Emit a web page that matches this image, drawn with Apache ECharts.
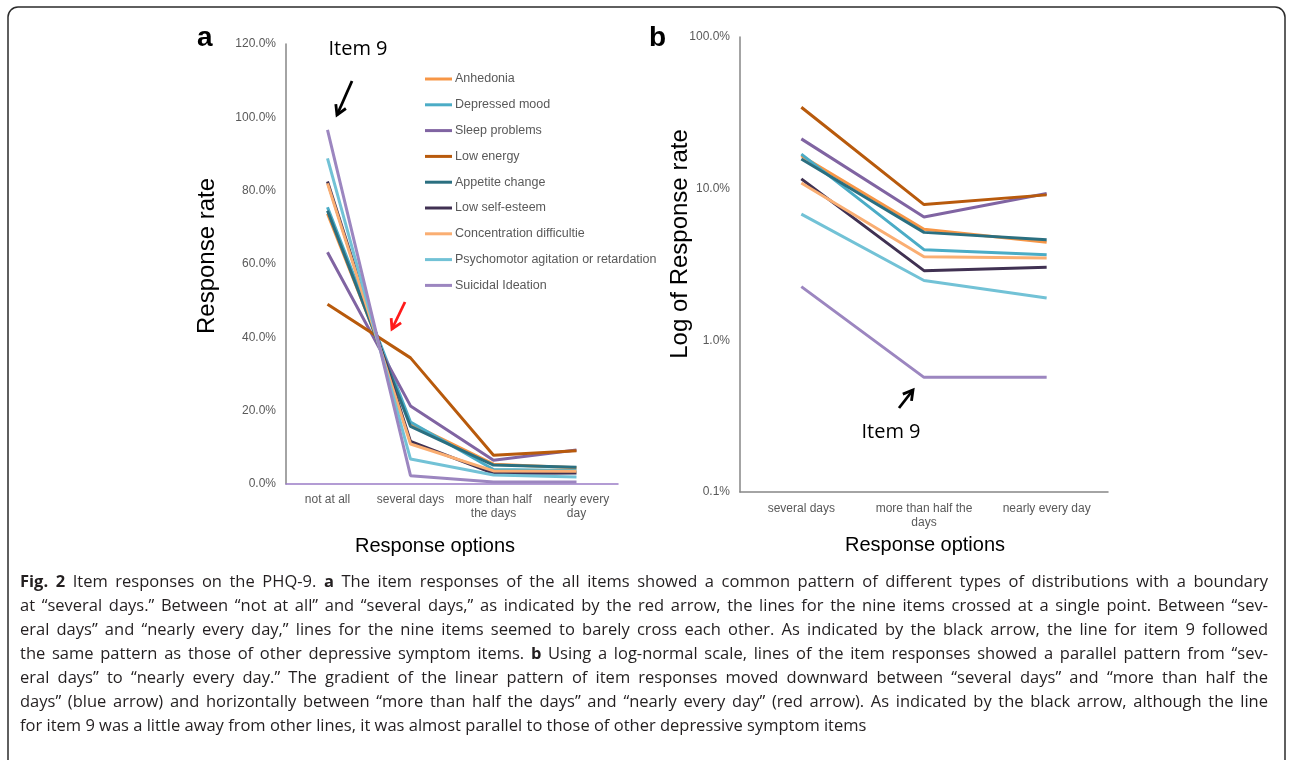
<!DOCTYPE html>
<html><head><meta charset="utf-8">
<script src="https://cdn.jsdelivr.net/npm/echarts@6/dist/echarts.min.js"></script>
<style>html,body{margin:0;padding:0;background:#fff}#c{width:1292px;height:760px}</style>
</head><body><div id="c"></div>
<script>
// ---------- DATA ----------
const seriesNames = ['Anhedonia','Depressed mood','Sleep problems','Low energy','Appetite change','Low self-esteem','Concentration difficultie','Psychomotor agitation or retardation','Suicidal Ideation'];
const categoriesA = ['not at all','several days','more than half the days','nearly every day'];
const tickLabelsA = ['not at all','several days','more than half\nthe days','nearly every\nday'];
const categoriesB = ['several days','more than half the days','nearly every day'];
const tickLabelsB = ['several days','more than half the\ndays','nearly every day'];
const yTicksA = [0,20,40,60,80,100,120];
const yTicksB = [0.001,0.01,0.1,1];
// response rate (%) per category: not at all, several days, more than half, nearly every day
const anhedonia      = [73.7, 16.5, 5.40, 4.43];
const depressedMood  = [75.5, 16.9, 3.96, 3.66];
const sleepProblems  = [63.2, 21.3, 6.50, 9.30];
const lowEnergy      = [49.0, 34.4, 7.85, 9.10];
const appetiteChange = [74.5, 15.7, 5.15, 4.60];
const lowSelfEsteem  = [82.5, 11.6, 2.88, 3.03];
const concentration  = [82.0, 10.9, 3.56, 3.49];
const psychomotor    = [88.8, 6.80, 2.48, 1.90];
const suicidal       = [96.6, 2.26, 0.57, 0.57];
const allValues = [anhedonia, depressedMood, sleepProblems, lowEnergy, appetiteChange, lowSelfEsteem, concentration, psychomotor, suicidal];

// ---------- STYLE ----------
const colors = ['#F79646','#4BACC6','#8064A2','#B85A0C','#2A6F80','#403152','#FAAE72','#72C2D6','#9C86C0'];
const gray = '#595959';
const lblFont = 'Liberation Sans';

const series = [];
allValues.forEach((vals, i) => {
  series.push({
    name: seriesNames[i], type: 'line', xAxisIndex: 0, yAxisIndex: 0,
    data: vals, showSymbol: false, symbol: 'none', silent: true,
    lineStyle: { width: 3, color: colors[i] }, itemStyle: { color: colors[i] }, z: 2 + i
  });
});
allValues.forEach((vals, i) => {
  series.push({
    name: seriesNames[i], type: 'line', xAxisIndex: 1, yAxisIndex: 1,
    data: vals.slice(1).map(v => v / 100), showSymbol: false, symbol: 'none', silent: true,
    lineStyle: { width: 3, color: colors[i] }, itemStyle: { color: colors[i] }, z: 2 + i
  });
});

function arrow(x1, y1, x2, y2, color, w) {
  const ang = Math.atan2(y2 - y1, x2 - x1), L = 11, a = Math.PI / 6;
  const p1 = [x2 - L * Math.cos(ang - a), y2 - L * Math.sin(ang - a)];
  const p2 = [x2 - L * Math.cos(ang + a), y2 - L * Math.sin(ang + a)];
  return [
    { type: 'line', shape: { x1, y1, x2, y2 }, style: { stroke: color, lineWidth: w } },
    { type: 'polyline', shape: { points: [p1, [x2, y2], p2] }, style: { stroke: color, lineWidth: w, fill: null } }
  ];
}

// caption (justified word layout)
const captionLines = [
  '*Fig. *2 Item responses on the PHQ-9. *a The item responses of the all items showed a common pattern of different types of distributions with a boundary',
  'at “several days.” Between “not at all” and “several days,” as indicated by the red arrow, the lines for the nine items crossed at a single point. Between “sev-',
  'eral days” and “nearly every day,” lines for the nine items seemed to barely cross each other. As indicated by the black arrow, the line for item 9 followed',
  'the same pattern as those of other depressive symptom items. *b Using a log-normal scale, lines of the item responses showed a parallel pattern from “sev-',
  'eral days” to “nearly every day.” The gradient of the linear pattern of item responses moved downward between “several days” and “more than half the',
  'days” (blue arrow) and horizontally between “more than half the days” and “nearly every day” (red arrow). As indicated by the black arrow, although the line',
  'for item 9 was a little away from other lines, it was almost parallel to those of other depressive symptom items'
];
const capFamily = 'Open Sans', capSize = 16.5, capX0 = 20, capX1 = 1268, capY0 = 582, capStep = 24;
const mctx = document.createElement('canvas').getContext('2d');
function mw(t, bold) { mctx.font = (bold ? 'bold ' : '') + capSize + 'px "' + capFamily + '"'; return mctx.measureText(t).width; }
const capGraphics = [];
let lastScale = 1;
captionLines.forEach((line, li) => {
  const words = line.split(' ').map(w => w.startsWith('*') ? { t: w.slice(1), b: true } : { t: w, b: false });
  words.forEach(w => w.w = mw(w.t, w.b));
  const sum = words.reduce((s, w) => s + w.w, 0);
  const sp = mw(' ', false);
  const gaps = words.length - 1;
  const justify = li < captionLines.length - 1;
  let gap = sp, scale = 1;
  if (justify) {
    gap = (capX1 - capX0 - sum) / gaps;
    if (gap < sp * 0.8) { scale = (capX1 - capX0) / (sum + gaps * sp); gap = sp * scale; }
    lastScale = scale;
  } else {
    scale = lastScale; gap = sp * scale;
  }
  let x = capX0;
  words.forEach(w => {
    capGraphics.push({ type: 'text', x: x, y: capY0 + li * capStep, scaleX: scale,
      style: { text: w.t, font: (w.b ? 'bold ' : '') + capSize + 'px "' + capFamily + '"', fill: '#231f20', verticalAlign: 'middle' } });
    x += w.w * scale + gap;
  });
});

const graphics = [
  { type: 'rect', shape: { x: 8, y: 7, width: 1277, height: 780, r: 10 }, style: { stroke: '#2b2b2b', lineWidth: 1.5, fill: null }, silent: true },
  { type: 'text', x: 197, y: 38, style: { text: 'a', font: 'bold 28px "Liberation Sans"', fill: '#000', verticalAlign: 'middle' } },
  { type: 'text', x: 649, y: 38, style: { text: 'b', font: 'bold 28px "Liberation Sans"', fill: '#000', verticalAlign: 'middle' } },
  { type: 'text', x: 207, y: 256, rotation: Math.PI / 2, style: { text: 'Response rate', font: '24px "Liberation Sans"', fill: '#000', align: 'center', verticalAlign: 'middle' } },
  { type: 'text', x: 680, y: 244, rotation: Math.PI / 2, style: { text: 'Log of Response rate', font: '24px "Liberation Sans"', fill: '#000', align: 'center', verticalAlign: 'middle' } },
  { type: 'text', x: 435, y: 546, style: { text: 'Response options', font: '20px "Liberation Sans"', fill: '#000', align: 'center', verticalAlign: 'middle' } },
  { type: 'text', x: 925, y: 545, style: { text: 'Response options', font: '20px "Liberation Sans"', fill: '#000', align: 'center', verticalAlign: 'middle' } },
  { type: 'text', x: 358, y: 49, style: { text: 'Item 9', font: '20px "Open Sans"', fill: '#000', align: 'center', verticalAlign: 'middle' } },
  { type: 'text', x: 891, y: 432, style: { text: 'Item 9', font: '20px "Open Sans"', fill: '#000', align: 'center', verticalAlign: 'middle' } },
  ...arrow(352, 81, 337, 115, '#000', 2.8),
  ...arrow(405, 302, 392, 329, '#ff1a1a', 2.8),
  ...arrow(899, 408, 913, 390, '#000', 2.8),
  ...capGraphics
];

const chart = echarts.init(document.getElementById('c'));
chart.setOption({
  animation: false,
  backgroundColor: '#fff',
  grid: [
    { left: 286, top: 44, width: 332, height: 440 },
    { left: 740, top: 37, width: 368, height: 455 }
  ],
  legend: {
    data: seriesNames, orient: 'vertical', left: 420, top: 67,
    icon: 'rect', itemWidth: 27, itemHeight: 3, itemGap: 11.8,
    textStyle: { color: gray, fontSize: 12.5, fontFamily: lblFont, lineHeight: 14, padding: [0, 0, 0, -2] },
    selectedMode: false
  },
  xAxis: [
    { type: 'category', gridIndex: 0, data: categoriesA, boundaryGap: true,
      axisLine: { lineStyle: { color: '#9B7CC6', width: 1.5 } }, axisTick: { show: false },
      axisLabel: { color: gray, fontSize: 12, fontFamily: lblFont, margin: 9, lineHeight: 14, interval: 0,
        formatter: (v, i) => tickLabelsA[i] } },
    { type: 'category', gridIndex: 1, data: categoriesB, boundaryGap: true,
      axisLine: { lineStyle: { color: '#868686', width: 1.5 } }, axisTick: { show: false },
      axisLabel: { color: gray, fontSize: 12, fontFamily: lblFont, margin: 10, lineHeight: 14, interval: 0,
        formatter: (v, i) => tickLabelsB[i] } }
  ],
  yAxis: [
    { type: 'value', gridIndex: 0, min: yTicksA[0], max: yTicksA[yTicksA.length - 1], interval: 20,
      axisLine: { show: true, lineStyle: { color: '#868686', width: 1.5 } }, axisTick: { show: false }, splitLine: { show: false },
      axisLabel: { color: gray, fontSize: 12, fontFamily: lblFont, margin: 10, formatter: v => v.toFixed(1) + '%' } },
    { type: 'log', gridIndex: 1, logBase: 10, min: yTicksB[0], max: yTicksB[yTicksB.length - 1],
      axisLine: { show: true, lineStyle: { color: '#868686', width: 1.5 } }, axisTick: { show: false }, splitLine: { show: false },
      axisLabel: { color: gray, fontSize: 12, fontFamily: lblFont, margin: 10, formatter: v => (v * 100).toFixed(1) + '%' } }
  ],
  series: series,
  graphic: { elements: graphics }
});
</script></body></html>
